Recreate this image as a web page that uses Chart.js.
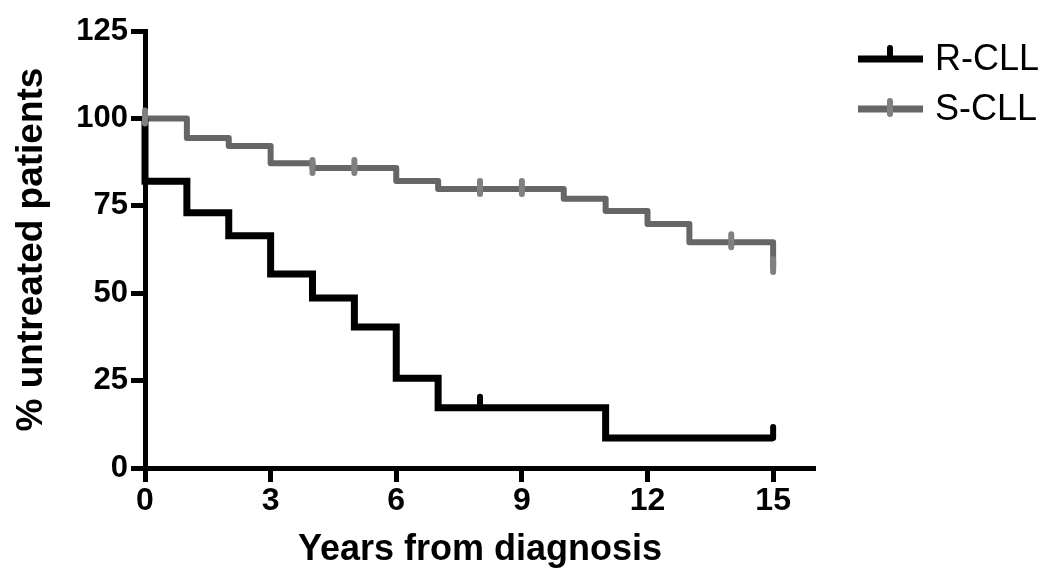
<!DOCTYPE html>
<html>
<head>
<meta charset="utf-8">
<script src="https://cdn.jsdelivr.net/npm/chart.js@4/dist/chart.umd.min.js"></script>
<style>
  html, body { margin: 0; padding: 0; background: #fff; }
  #wrap { width: 1050px; height: 586px; }
</style>
</head>
<body>
<div id="wrap"><canvas id="chart"></canvas></div>
<script>
// Kaplan-Meier steps: time of event (years) and % untreated right after it
let rTimes = [0, 0, 1, 2, 3, 4, 5, 6, 7, 11, 15];
let rValues = [100, 82, 73, 66.4, 55.5, 48.6, 40.3, 25.7, 17.2, 8.6, 8.6];
let rCensored = [8, 15];

let sTimes = [0, 1, 2, 3, 4, 6, 7, 10, 11, 12, 13, 15];
let sValues = [100, 94.4, 92.1, 87.2, 85.8, 82.1, 79.8, 77, 73.5, 69.8, 64.6, 57.5];
let sCensored = [0, 4, 5, 8, 9, 14, 15];

let seriesNames = ['R-CLL', 'S-CLL'];
let xTicks = [0, 3, 6, 9, 12, 15];
let yTicks = [0, 25, 50, 75, 100, 125];

const FONT = "'Liberation Sans', Arial, Helvetica, sans-serif";
Chart.defaults.font.family = FONT;
Chart.defaults.color = '#000';

function toPoints(times, values) {
    return times.map((t, i) => ({ x: t, y: values[i] }));
}

function valueAt(times, values, t) {
    let v = values[0];
    for (let i = 0; i < times.length; i++) {
        if (times[i] <= t) v = values[i];
    }
    return v;
}

// censor ticks + legend are drawn here
const kmExtras = {
    id: 'kmExtras',
    afterDatasetsDraw(chart) {
        const ctx = chart.ctx;
        const xs = chart.scales.x, ys = chart.scales.y;
        chart.data.datasets.forEach(ds => {
            ctx.save();
            ctx.strokeStyle = ds.censorColor;
            ctx.lineWidth = 6;
            ctx.lineCap = 'round';
            ds.censored.forEach(t => {
                const px = xs.getPixelForValue(t);
                const py = ys.getPixelForValue(valueAt(ds.times, ds.values, t));
                ctx.beginPath();
                ctx.moveTo(px, py + ds.tickDown);
                ctx.lineTo(px, py - ds.tickUp);
                ctx.stroke();
            });
            ctx.restore();
        });
    },
    afterDraw(chart) {
        const ctx = chart.ctx;
        const left = chart.chartArea.right + 43;
        chart.data.datasets.forEach((ds, i) => {
            const y = 59 + i * 50;
            ctx.save();
            ctx.strokeStyle = ds.borderColor;
            ctx.lineWidth = 7;
            ctx.beginPath();
            ctx.moveTo(left, y);
            ctx.lineTo(left + 65, y);
            ctx.stroke();
            ctx.strokeStyle = ds.censorColor;
            ctx.lineWidth = 6;
            ctx.lineCap = 'round';
            ctx.beginPath();
            ctx.moveTo(left + 32, y + ds.tickDown);
            ctx.lineTo(left + 32, y - ds.tickUp);
            ctx.stroke();
            ctx.fillStyle = '#000';
            ctx.font = '36px ' + FONT;
            ctx.textBaseline = 'middle';
            ctx.fillText(ds.label, left + 77, y + 1);
            ctx.restore();
        });
    }
};

const axisGrid = {
    display: true,
    drawOnChartArea: false,
    drawTicks: true,
    tickLength: 14,
    tickWidth: 5,
    tickColor: '#000',
    color: '#000'
};

new Chart(document.getElementById('chart'), {
    type: 'line',
    data: {
        datasets: [
            {
                label: seriesNames[0],
                data: toPoints(rTimes, rValues),
                times: rTimes, values: rValues, censored: rCensored,
                borderColor: '#000000',
                censorColor: '#000000',
                tickUp: 11, tickDown: 0,
                borderWidth: 7,
                stepped: 'before',
                pointRadius: 0,
                borderJoinStyle: 'miter',
                clip: false
            },
            {
                label: seriesNames[1],
                data: toPoints(sTimes, sValues),
                times: sTimes, values: sValues, censored: sCensored,
                borderColor: '#666666',
                censorColor: '#808080',
                tickUp: 8, tickDown: 5,
                borderWidth: 6,
                stepped: 'before',
                pointRadius: 0,
                borderJoinStyle: 'round',
                clip: false
            }
        ]
    },
    options: {
        responsive: true,
        maintainAspectRatio: false,
        animation: false,
        layout: { padding: { left: 10, top: 31, right: 235, bottom: 10 } },
        plugins: {
            legend: { display: false },
            tooltip: { enabled: false }
        },
        scales: {
            x: {
                type: 'linear',
                min: 0,
                max: 16,
                afterBuildTicks: s => { s.ticks = xTicks.map(v => ({ value: v })); },
                afterFit: s => { s.height = 108; },
                border: { display: true, color: '#000', width: 5 },
                grid: axisGrid,
                ticks: { color: '#000', font: { size: 32, weight: 'bold' }, padding: 0, maxRotation: 0 },
                title: { display: true, text: 'Years from diagnosis', color: '#000', font: { size: 36, weight: 'bold' }, padding: 4 }
            },
            y: {
                type: 'linear',
                min: 0,
                max: 125,
                afterBuildTicks: s => { s.ticks = yTicks.map(v => ({ value: v })); },
                afterFit: s => { s.width = 135; },
                border: { display: true, color: '#000', width: 5 },
                grid: axisGrid,
                ticks: { color: '#000', font: { size: 31, weight: 'bold' }, padding: 3 },
                title: { display: true, text: '% untreated patients', color: '#000', font: { size: 37, weight: 'bold' }, padding: 0 }
            }
        }
    },
    plugins: [kmExtras]
});
</script>
</body>
</html>
